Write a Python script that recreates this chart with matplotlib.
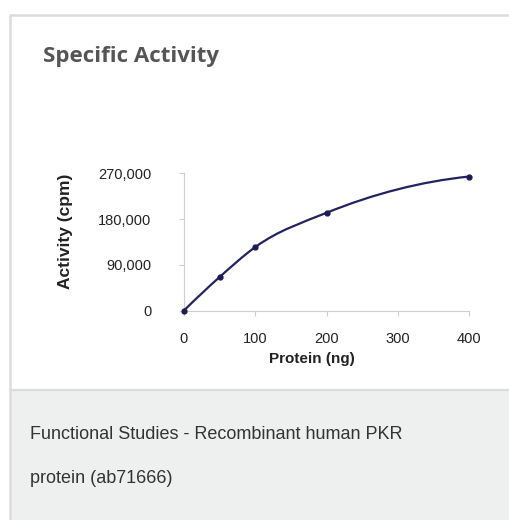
import matplotlib
matplotlib.use("Agg")
import matplotlib.pyplot as plt
from matplotlib.patches import Rectangle, PathPatch
from matplotlib.path import Path
from matplotlib.lines import Line2D

# data
protein_ng = [0, 50, 100, 200, 400]
activity_cpm = [0, 66000, 125000, 192500, 264000]
x_ticks = [0, 100, 200, 300, 400]
y_ticks = [0, 90000, 180000, 270000]

title = "Specific Activity"
caption = ["Functional Studies - Recombinant human PKR", "protein (ab71666)"]

W, H = 510, 520
fig = plt.figure(figsize=(W / 100, H / 100), dpi=100)
fig.patch.set_facecolor("white")

# card frame and grey caption area
fig.add_artist(Rectangle((10 / W, 0), 1, 1 - 390 / H, transform=fig.transFigure,
                         facecolor="#eeefef", edgecolor="none", zorder=0))
fig.add_artist(Line2D([10 / W, 1], [1 - 390 / H] * 2, transform=fig.transFigure,
                      color="#dcdcdc", lw=1.6, zorder=1))
fig.add_artist(Line2D([10 / W, 10 / W, 1], [0, 1 - 14.5 / H, 1 - 14.5 / H],
                      transform=fig.transFigure, color="#dcdcdc", lw=1.8, zorder=1))

fig.text(43 / W, 1 - 62 / H, title, family="Open Sans", weight="bold",
         fontsize=16, color="#555555", va="baseline")
fig.text(30 / W, 1 - 439 / H, caption[0], family="Liberation Sans",
         fontsize=13, color="#333333", va="baseline")
fig.text(30 / W, 1 - 483 / H, caption[1], family="Liberation Sans",
         fontsize=13, color="#333333", va="baseline")

# axes
ax = fig.add_axes([184 / W, 1 - 310.5 / H, 285 / W, 137 / H])
ax.set_facecolor("none")
ax.set_xlim(0, 400)
ax.set_ylim(0, 270000)


# smoothed line: cubic Hermite segments, slopes from local 3-point fits
def slope3(xa, ya, xb, yb, xc, yc, x):
    d1 = (yb - ya) / (xb - xa)
    d2 = (yc - yb) / (xc - xb)
    k = (d2 - d1) / (xc - xa)
    return d1 + k * ((x - xa) + (x - xb))


xs, ys = protein_ng, activity_cpm
n = len(xs)
m = []
for i in range(n):
    j = min(max(i - 1, 0), n - 3)
    m.append(slope3(xs[j], ys[j], xs[j + 1], ys[j + 1], xs[j + 2], ys[j + 2], xs[i]))

verts = [(xs[0], ys[0])]
codes = [Path.MOVETO]
for i in range(n - 1):
    h = xs[i + 1] - xs[i]
    verts += [(xs[i] + h / 3, ys[i] + m[i] * h / 3),
              (xs[i + 1] - h / 3, ys[i + 1] - m[i + 1] * h / 3),
              (xs[i + 1], ys[i + 1])]
    codes += [Path.CURVE4] * 3
ax.add_patch(PathPatch(Path(verts, codes), facecolor="none",
                       edgecolor="#23235f", lw=1.6, zorder=3, clip_on=False))
ax.plot(xs, ys, linestyle="none", marker="o", ms=3.5,
        color="#1c1c55", zorder=4, clip_on=False)

for s in ["top", "right"]:
    ax.spines[s].set_visible(False)
for s in ["left", "bottom"]:
    ax.spines[s].set_color("#cfcfcf")
    ax.spines[s].set_linewidth(0.8)

ax.set_xticks(x_ticks)
ax.set_yticks(y_ticks)
ax.set_yticklabels([f"{v:,}" for v in y_ticks])
ax.tick_params(axis="both", colors="#cfcfcf", labelcolor="#222222",
               length=3.5, width=0.8, labelsize=10.5)
ax.tick_params(axis="y", pad=20)
ax.tick_params(axis="x", pad=12)
for lab in ax.get_xticklabels() + ax.get_yticklabels():
    lab.set_family("Liberation Sans")

ax.set_xlabel("Protein (ng)", family="Liberation Sans", weight="bold",
              fontsize=11, color="#222222")
ax.xaxis.set_label_coords(0.447, -0.30)
ax.set_ylabel("Activity (cpm)", family="Liberation Sans", weight="bold",
              fontsize=12.5, color="#222222")
ax.yaxis.set_label_coords(-0.39, 0.577)

fig.savefig("out.png", dpi=100)
